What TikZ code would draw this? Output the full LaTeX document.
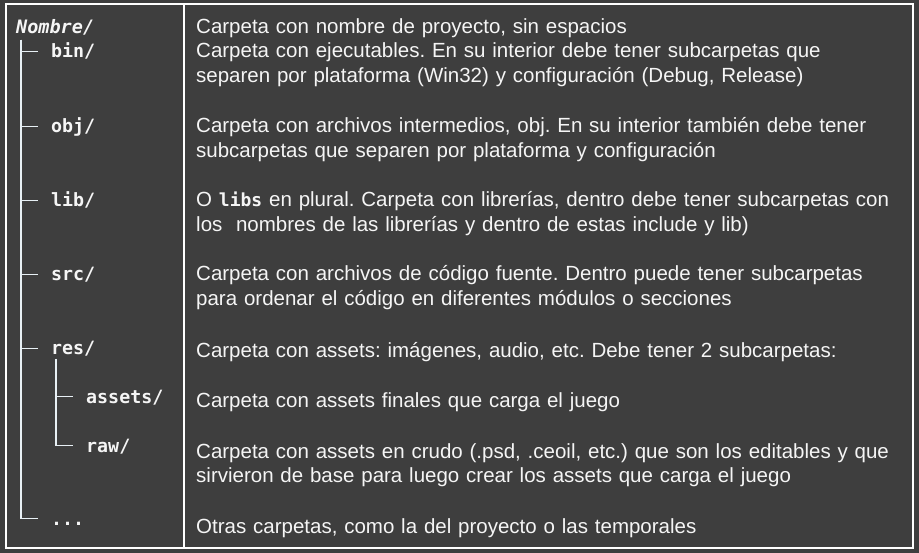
\documentclass[tikz,border=0pt]{standalone}
\usepackage{fontspec}
\setmainfont{Liberation Sans}
\newfontfamily\codefont{DejaVu Sans Mono}
\usepackage{tikz}
\usetikzlibrary{positioning, calc}
\definecolor{mybg}{RGB}{62,62,62}
\definecolor{mytext}{RGB}{245,245,245}
\definecolor{myline}{RGB}{232,240,245}
\tikzset{
  desc/.style={anchor=base west, inner sep=0pt, text=mytext,
    text width=715pt, align=left, font=\fontsize{20.5}{24.5}\selectfont\frenchspacing},
  dir/.style={anchor=base west, inner sep=0pt, text=mytext,
    font=\codefont\bfseries\fontsize{18.3}{22}\selectfont},
  tree/.style={draw=myline, line width=1.8pt},
  frame/.style={draw=white, line width=2.2pt}
}

\begin{document}
\begin{tikzpicture}[x=1pt, y=-1pt]
  % Background
  \fill[mybg] (0,0) rectangle (919,553);
  \useasboundingbox (0,0) rectangle (919,553);

  % Frame
  \draw[frame] (6,4) rectangle (913,548);
  \draw[frame] (184,4) -- (184,548);

  % Folders
  \node[dir, font=\codefont\bfseries\itshape\fontsize{18.5}{22}\selectfont] (nombre) at (16,34) {Nombre/};
  \node[dir] (bin) at (51,58) {bin/};
  \node[dir] (obj) at (51,133) {obj/};
  \node[dir] (lib) at (51,207) {lib/};
  \node[dir] (src) at (51,281) {src/};
  \node[dir] (res) at (51,355) {res/};
  \node[dir] (assets) at (86,403) {assets/};
  \node[dir] (raw) at (86,452) {raw/};
  \node[dir] (dots) at (51,525) {...};

  % Tree
  \coordinate (trunk) at (21,40);
  \foreach \d in {bin, obj, lib, src, res, dots}
    \draw[tree] (trunk) |- ([shift={(-13pt,6.5pt)}]\d.base west);
  \coordinate (subtrunk) at (56,359);
  \foreach \d in {assets, raw}
    \draw[tree] (subtrunk) |- ([shift={(-13pt,6.5pt)}]\d.base west);

  % Descriptions
  \node[desc] (dnombre) at (196,34) {Carpeta con nombre de proyecto, sin espacios};
  \node[desc] (dbin) at (196,58) {Carpeta con ejecutables. En su interior debe tener subcarpetas que\\
    separen por plataforma (Win32) y configuración (Debug, Release)};
  \node[desc] (dobj) at (196,133) {Carpeta con archivos intermedios, obj. En su interior también debe tener\\
    subcarpetas que separen por plataforma y configuración};
  \node[desc] (dlib) at (196,207) {O {\codefont\bfseries\fontsize{18}{24.5}\selectfont libs} en plural. Carpeta con librerías, dentro debe tener subcarpetas con\\
    los~ nombres de las librerías y dentro de estas include y lib)};
  \node[desc] (dsrc) at (196,281) {Carpeta con archivos de código fuente. Dentro puede tener subcarpetas\\
    para ordenar el código en diferentes módulos o secciones};
  \node[desc] (dres) at (196,358) {Carpeta con assets: imágenes, audio, etc. Debe tener 2 subcarpetas:};
  \node[desc] (dassets) at (196,407) {Carpeta con assets finales que carga el juego};
  \node[desc] (draw) at (196,458) {Carpeta con assets en crudo (.psd, .ceoil, etc.) que son los editables y que\\
    sirvieron de base para luego crear los assets que carga el juego};
  \node[desc] (ddots) at (196,533) {Otras carpetas, como la del proyecto o las temporales};
\end{tikzpicture}
\end{document}
